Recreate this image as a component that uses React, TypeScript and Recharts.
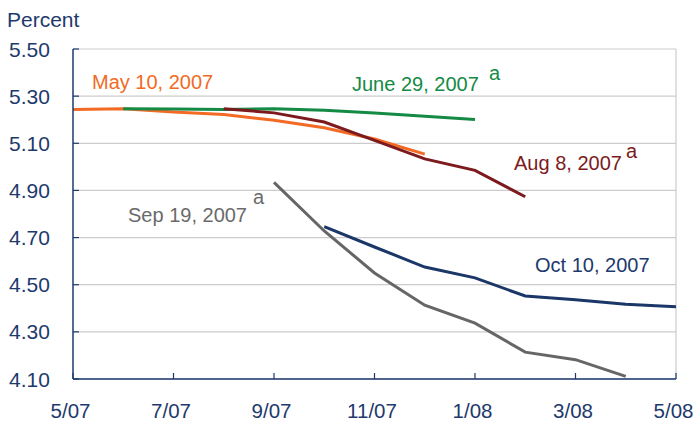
import { CartesianGrid, Line, LineChart, ReferenceLine, XAxis, YAxis } from "recharts";

// month index 0 = 5/07 ... 12 = 5/08
const months = [0, 1, 2, 3, 4, 5, 6, 7, 8, 9, 10, 11, 12];
const xTickLabels = ["5/07", "7/07", "9/07", "11/07", "1/08", "3/08", "5/08"];
const xTicks = [0, 2, 4, 6, 8, 10, 12];
const yTicks = [4.1, 4.3, 4.5, 4.7, 4.9, 5.1, 5.3, 5.5];

const may10 = [5.243, 5.247, 5.233, 5.222, 5.198, 5.166, 5.118, 5.054]; // from month 0
const jun29 = [5.247, 5.245, 5.243, 5.247, 5.24, 5.228, 5.215, 5.201]; // from month 1
const aug8 = [5.247, 5.229, 5.19, 5.112, 5.034, 4.985, 4.873]; // from month 3
const sep19 = [4.934, 4.728, 4.55, 4.413, 4.337, 4.214, 4.182, 4.111]; // from month 4
const oct10 = [4.746, 4.66, 4.575, 4.529, 4.452, 4.436, 4.417, 4.406]; // from month 5

const pick = (arr: number[], start: number, m: number) =>
  m >= start && m - start < arr.length ? arr[m - start] : null;

const data = months.map((m) => ({
  m,
  may: pick(may10, 0, m),
  jun: pick(jun29, 1, m),
  aug: pick(aug8, 3, m),
  sep: pick(sep19, 4, m),
  oct: pick(oct10, 5, m),
}));

const navy = "#1e3a6c";
const font = "Liberation Sans, Arial, sans-serif";

const YTick = (props: any) => {
  const { x, y, payload } = props;
  return (
    <g>
      <line x1={x} x2={x + 6} y1={y} y2={y} stroke={navy} strokeWidth={1.2} />
      <text x={9} y={y + 7.5} fill={navy} fontSize={21} fontFamily={font}>
        {payload.value.toFixed(2)}
      </text>
    </g>
  );
};

const XTick = (props: any) => {
  const { x, y, payload, index } = props;
  return (
    <g>
      <line x1={x} x2={x} y1={y} y2={y - 6} stroke={navy} strokeWidth={1.2} />
      <text x={x - 2.5} y={y + 39} fill={navy} fontSize={20.5} fontFamily={font} textAnchor="middle">
        {xTickLabels[index] ?? payload.value}
      </text>
    </g>
  );
};

const labels = [
  { text: "May 10, 2007", x: 92, y: 89, color: "#f26a24", sup: null as null | { x: number; y: number } },
  { text: "June 29, 2007", x: 352, y: 91, color: "#148a45", sup: { x: 489, y: 80 } },
  { text: "Aug 8, 2007", x: 514, y: 170, color: "#7c1a1d", sup: { x: 626, y: 158 } },
  { text: "Sep 19, 2007", x: 128, y: 222, color: "#6a6a6a", sup: { x: 253, y: 204 } },
  { text: "Oct 10, 2007", x: 535, y: 272, color: navy, sup: null },
];

export default function App() {
  return (
    <div style={{ position: "absolute", left: 0, top: 0, width: 694, height: 424, background: "#fff" }}>
      <LineChart width={694} height={424} data={data} margin={{ top: 49, right: 18, bottom: 15, left: 0 }}>
        <CartesianGrid vertical={false} stroke="#cccccc" strokeWidth={1.2} />
        <XAxis
          dataKey="m"
          type="number"
          domain={[0, 12]}
          ticks={xTicks}
          interval={0}
          height={30}
          tickSize={0}
          tickMargin={0}
          tickLine={false}
          axisLine={{ stroke: navy, strokeWidth: 1.5 }}
          tick={<XTick />}
        />
        <YAxis
          type="number"
          domain={[4.1, 5.5]}
          ticks={yTicks}
          interval={0}
          width={73}
          tickSize={0}
          tickMargin={0}
          tickLine={false}
          axisLine={{ stroke: navy, strokeWidth: 1.5 }}
          tick={<YTick />}
        />
        <ReferenceLine x={12} stroke="#cccccc" strokeWidth={1.2} />
        <Line dataKey="may" stroke="#f26a24" strokeWidth={3} dot={false} isAnimationActive={false} />
        <Line dataKey="jun" stroke="#148a45" strokeWidth={3} dot={false} isAnimationActive={false} />
        <Line dataKey="aug" stroke="#7c1a1d" strokeWidth={3} dot={false} isAnimationActive={false} />
        <Line dataKey="sep" stroke="#666666" strokeWidth={3} dot={false} isAnimationActive={false} />
        <Line dataKey="oct" stroke="#1b3768" strokeWidth={3} dot={false} isAnimationActive={false} />
      </LineChart>
      <svg width={694} height={424} style={{ position: "absolute", left: 0, top: 0, pointerEvents: "none" }}>
        <text x={7} y={27} fill={navy} fontSize={21} fontFamily={font}>
          Percent
        </text>
        {labels.map((l) => (
          <g key={l.text}>
            <text x={l.x} y={l.y} fill={l.color} fontSize={20} fontFamily={font}>
              {l.text}
            </text>
            {l.sup && (
              <text x={l.sup.x} y={l.sup.y} fill={l.color} fontSize={20} fontFamily={font}>
                a
              </text>
            )}
          </g>
        ))}
      </svg>
    </div>
  );
}
